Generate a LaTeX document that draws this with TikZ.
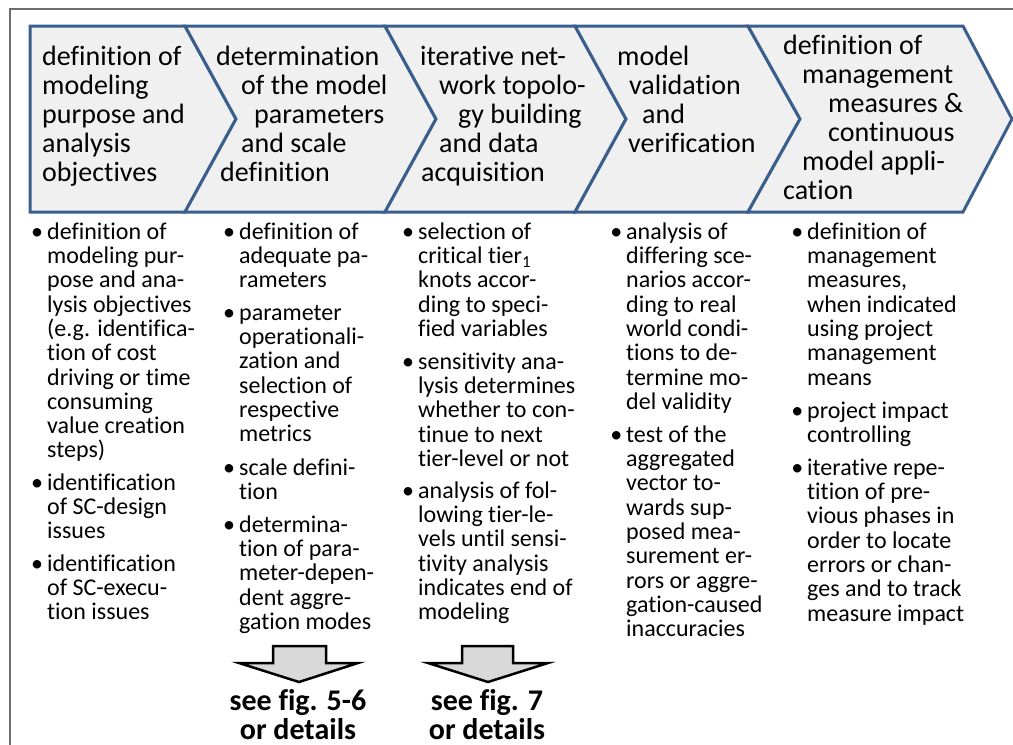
\documentclass[tikz,border=0pt]{standalone}
\usepackage{fontspec}
\setmainfont{Carlito}[RawFeature={-liga;-clig;-calt;-dlig}]
\definecolor{chevblue}{HTML}{3B5F8C}
\definecolor{chevfill}{HTML}{F0F0F0}
\definecolor{framegray}{HTML}{6E6E6E}
\definecolor{arrowgray}{HTML}{D9D9D9}
\newcommand\mybul{\llap{\textbullet\hspace{4pt}}}
\begin{document}
\setlength\lineskiplimit{-20pt}
\begin{tikzpicture}[x=1pt,y=-1pt,
  chev/.style={fill=chevfill, draw=chevblue, line width=3pt, line join=miter},
  head/.style={anchor=north west, inner sep=0pt, align=left,
    font=\fontsize{28}{29}\selectfont},
  item/.style={anchor=north west, inner sep=0pt, align=left,
    font=\fontsize{24}{24.3}\selectfont},
  barrow/.style={fill=arrowgray, draw=black, line width=2.5pt, line join=miter},
  see/.style={anchor=north, inner sep=0pt, align=center,
    font=\bfseries\fontsize{30}{29}\selectfont}]
\useasboundingbox (0,0) rectangle (1013,745);
% outer frame
\draw[framegray, line width=2pt] (10,745) -- (10,9) -- (1013,9);
% chevrons
\draw[chev] (30,26) -- (185,26) -- (236,119) -- (185,212) -- (30,212) -- cycle;
\draw[chev] (185,26) -- (385,26) -- (436,119) -- (385,212) -- (185,212) -- (236,119) -- cycle;
\draw[chev] (385,26) -- (575,26) -- (626,119) -- (575,212) -- (385,212) -- (436,119) -- cycle;
\draw[chev] (575,26) -- (748,26) -- (800,119) -- (748,212) -- (575,212) -- (626,119) -- cycle;
\draw[chev] (748,26) -- (963,26) -- (1012,119) -- (963,212) -- (748,212) -- (800,119) -- cycle;
% headings
\node[head] (h1) at (42,44.7) {\strut definition of\\modeling\\purpose and\\analysis\\objectives};
\node[head] (h2) at (216,44.7) {\strut determination\\\hspace*{25pt}of the model\\\hspace*{38pt}parameters\\\hspace*{25pt}and scale\\\hspace*{4pt}definition};
\node[head] (h3) at (420,44.7) {\strut iterative net-\\\hspace*{19pt}work topolo-\\\hspace*{38pt}gy building\\\hspace*{19pt}and data\\\hspace*{1pt}acquisition};
\node[head] (h4) at (617,44.7) {\strut model\\\hspace*{12pt}validation\\\hspace*{25pt}and\\\hspace*{11pt}verification};
\node[head] (h5) at (783,33.7) {\strut definition of\\\hspace*{19pt}management\\\hspace*{45pt}measures \&\\\hspace*{45pt}continuous\\\hspace*{19pt}model appli-\\cation};
% column 1
\node[item] (i11) at (47,222) {\mybul\strut definition of\\modeling pur-\\pose and ana-\\lysis objectives\\(e.g. identifica-\\tion of cost\\driving or time\\consuming\\value creation\\steps)};
\node[item] (i12) at (47,473) {\mybul\strut identification\\of SC-design\\issues};
\node[item] (i13) at (47,554) {\mybul\strut identification\\of SC-execu-\\tion issues};
% column 2
\node[item] (i21) at (239,222) {\mybul\strut definition of\\adequate pa-\\rameters};
\node[item] (i22) at (239,303) {\mybul\strut parameter\\operationali-\\zation and\\selection of\\respective\\metrics};
\node[item] (i23) at (239,458) {\mybul\strut scale defini-\\tion};
\node[item] (i24) at (239,515) {\mybul\strut determina-\\tion of para-\\meter-depen-\\dent aggre-\\gation modes};
% column 3
\node[item] (i31) at (418,222) {\mybul\strut selection of\\critical tier\textsubscript{1}\\knots accor-\\ding to speci-\\fied variables};
\node[item] (i32) at (418,352) {\mybul\strut sensitivity ana-\\lysis determines\\whether to con-\\tinue to next\\tier-level or not};
\node[item] (i33) at (418,481) {\mybul\strut analysis of fol-\\lowing tier-le-\\vels until sensi-\\tivity analysis\\indicates end of\\modeling};
% column 4
\node[item] (i41) at (626,222) {\mybul\strut analysis of\\differing sce-\\narios accor-\\ding to real\\world condi-\\tions to de-\\termine mo-\\del validity};
\node[item] (i42) at (626,425) {\mybul\strut test of the\\aggregated\\vector to-\\wards sup-\\posed mea-\\surement er-\\rors or aggre-\\gation-caused\\inaccuracies};
% column 5
\node[item] (i51) at (807,222) {\mybul\strut definition of\\management\\measures,\\when indicated\\using project\\management\\means};
\node[item] (i52) at (807,401) {\mybul\strut project impact\\controlling};
\node[item] (i53) at (807,458) {\mybul\strut iterative repe-\\tition of pre-\\vious phases in\\order to locate\\errors or chan-\\ges and to track\\measure impact};
% block arrows
\draw[barrow] (273,646) -- (326,646) -- (326,663) -- (358,663) -- (299,682) -- (239,663) -- (273,663) -- cycle;
\draw[barrow] (462,646) -- (513,646) -- (513,663) -- (548,663) -- (488,682) -- (428,663) -- (462,663) -- cycle;
\node[see] (s1) at (298,689) {\strut see fig. 5-6\\or details};
\node[see] (s2) at (487,689) {\strut see fig. 7\\or details};
\end{tikzpicture}
\end{document}
